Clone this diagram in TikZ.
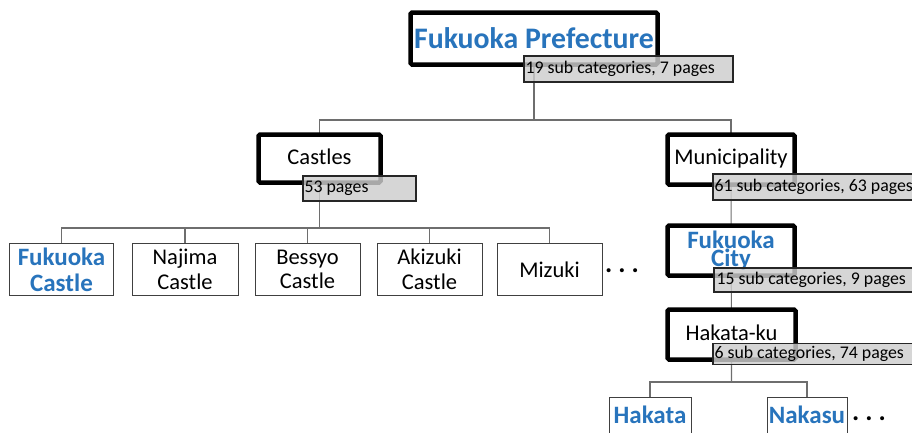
\documentclass[tikz,border=0pt]{standalone}
\usepackage{fontspec}
\setmainfont{Carlito}
\definecolor{catblue}{RGB}{40,116,188}
\definecolor{lblgray}{RGB}{205,205,205}
\definecolor{conn}{RGB}{110,110,110}
\tikzset{
  mainbox/.style={draw=black, line width=4.5pt, fill=white, inner sep=0pt, rounded corners=1.5pt, align=center, font=\fontsize{22.5}{25}\selectfont},
  countlbl/.style={draw=black!85, line width=1.8pt, fill=lblgray, fill opacity=0.82, text opacity=1, inner sep=0pt, anchor=center, font=\fontsize{17.8}{20}\selectfont},
  leafbox/.style={draw=black!75, line width=1pt, fill=white, inner sep=0pt, align=center, minimum width=104pt, minimum height=52pt, font=\fontsize{22.5}{24.5}\selectfont},
  bluetxt/.style={text=catblue, font=\fontsize{25}{26}\selectfont\bfseries},
  connector/.style={draw=conn, line width=1.1pt},
  dots/.style={font=\fontsize{27}{27}\selectfont\bfseries, inner sep=0pt}
}
\begin{document}
\begin{tikzpicture}[x=1pt,y=-1pt]
\useasboundingbox (0,0) rectangle (912,432);
\clip (0,0) rectangle (912,432);
% coordinates for buses
\coordinate (busA) at (534,120);
\coordinate (busB) at (319.5,228);
\coordinate (busC) at (731.5,382);
% connectors (drawn first, behind boxes)
\draw[connector] (534,38.5) -- (busA) -| (319.5,158.5);
\draw[connector] (busA) -| (731,159.5);
\draw[connector] (319.5,158.5) -- (busB);
\foreach \cx in {61.5,185,307.5,429.5,549.5} {\draw[connector] (busB) -| (\cx,269.5);}
\draw[connector] (731,159.5) -- (731.5,382);
\draw[connector] (busC) -| (650,423.5);
\draw[connector] (busC) -| (807,423.5);

% main boxes
\node[mainbox, minimum width=247pt, minimum height=52pt, text=catblue, font=\fontsize{29.8}{32}\selectfont\bfseries] (pref) at (534,38.5) {\raisebox{1pt}{Fukuoka Prefecture}};
\node[mainbox, minimum width=122pt, minimum height=48pt] (castles) at (319.5,158.5) {\raisebox{4pt}{Castles}};
\node[mainbox, minimum width=127pt, minimum height=50pt] (muni) at (731,159.5) {\raisebox{5pt}{Municipality}};
\node[mainbox, minimum width=127pt, minimum height=50pt, text=catblue, font=\fontsize{25}{18}\selectfont\bfseries] (city) at (731,250.5) {\raisebox{7pt}{\parbox{120pt}{\centering Fukuoka\\City}}};
\node[mainbox, minimum width=128pt, minimum height=50pt] (hakataku) at (731.5,334.5) {\raisebox{3pt}{Hakata-ku}};

% count labels
\node[countlbl, minimum width=209pt, minimum height=26pt] (preflbl) at (628.5,69) {\makebox[206pt][l]{19 sub categories, 7 pages}};
\node[countlbl, minimum width=113pt, minimum height=25pt] (castleslbl) at (359.5,188.5) {\makebox[110pt][l]{53 pages}};
\node[countlbl, minimum width=200pt, minimum height=26pt] (munilbl) at (813,187) {\makebox[197pt][l]{61 sub categories, 63 pages}};
\node[countlbl, minimum width=199pt, minimum height=24pt] (citylbl) at (813.5,280) {\makebox[196pt][l]{\hspace{1pt}15 sub categories, 9 pages}};
\node[countlbl, minimum width=200pt, minimum height=21pt] (hakatakulbl) at (813,354) {\makebox[197pt][l]{6 sub categories, 74 pages}};

% castle leaves
\node[leafbox, bluetxt] (fcastle) at (61.5,269.5) {Fukuoka\\Castle};
\node[leafbox, minimum width=106pt] (najima) at (185,269.5) {Najima\\Castle};
\node[leafbox, minimum width=105pt] (bessyo) at (307.5,269.5) {Bessyo\\Castle};
\node[leafbox, minimum width=105pt] (akizuki) at (429.5,269.5) {Akizuki\\Castle};
\node[leafbox, minimum width=105pt] (mizuki) at (549.5,269.5) {Mizuki};
\node[dots, anchor=west] (dotsA) at (605,271) {.\hspace{6pt}.\hspace{6pt}.};

% Hakata-ku leaves
\node[leafbox, bluetxt, minimum width=82pt, minimum height=53pt] (hakata) at (650,423.5) {\raisebox{18pt}{Hakata}};
\node[leafbox, bluetxt, minimum width=80pt, minimum height=53pt] (nakasu) at (807,423.5) {\raisebox{18pt}{Nakasu}};
\node[dots, anchor=west] (dotsB) at (852,419) {.\hspace{6pt}.\hspace{6pt}.};
\end{tikzpicture}
\end{document}
